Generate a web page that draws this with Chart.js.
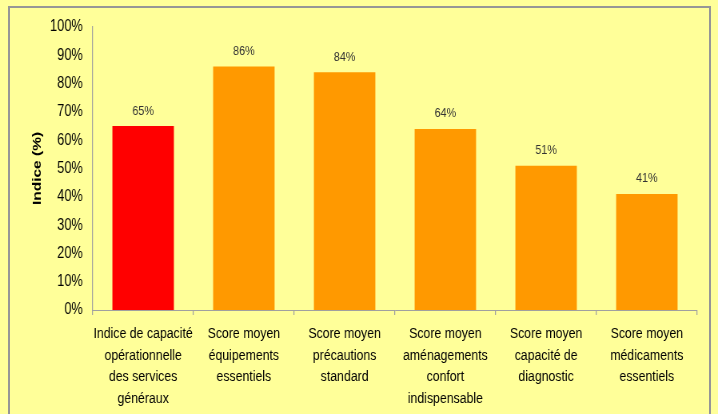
<!DOCTYPE html>
<html>
<head>
<meta charset="utf-8">
<script src="https://cdn.jsdelivr.net/npm/chart.js@4/dist/chart.umd.min.js"></script>
<style>
  html, body { margin: 0; padding: 0; background: #FFFF99; overflow: hidden; }
  #frame { position: absolute; left: 8px; top: 6px; width: 703px; height: 430px; border: 2px solid #969696; box-sizing: border-box; }
  #c { position: absolute; left: 0; top: 0; width: 718px; height: 414px; }
</style>
</head>
<body>
<div id="frame"></div>
<canvas id="c" width="898" height="414" style="width:718px;height:414px;"></canvas>
<script>
const categories = [
  ["Indice de capacité", "opérationnelle", "des services", "généraux"],
  ["Score moyen", "équipements", "essentiels"],
  ["Score moyen", "précautions", "standard"],
  ["Score moyen", "aménagements", "confort", "indispensable"],
  ["Score moyen", "capacité de", "diagnostic"],
  ["Score moyen", "médicaments", "essentiels"]
];
const values = [65, 86, 84, 64, 51, 41];
const barColors = ["#FF0000", "#FF9900", "#FF9900", "#FF9900", "#FF9900", "#FF9900"];
const yTitle = "Indice (%)";

const FONT = "'Liberation Sans', Arial, Helvetica, sans-serif";

const valueLabels = {
  id: "valueLabels",
  afterDatasetsDraw(chart) {
    const ctx = chart.ctx;
    const meta = chart.getDatasetMeta(0);
    ctx.save();
    ctx.font = "13.5px " + FONT;
    ctx.fillStyle = "#333333";
    ctx.textAlign = "center";
    ctx.textBaseline = "alphabetic";
    meta.data.forEach((bar, i) => {
      ctx.fillText(values[i] + "%", bar.x, bar.y - 11.5);
    });
    ctx.restore();
  }
};

new Chart(document.getElementById("c"), {
  type: "bar",
  data: {
    labels: categories,
    datasets: [{
      data: values,
      backgroundColor: barColors,
      borderWidth: 0,
      categoryPercentage: 1,
      barPercentage: 0.61
    }]
  },
  options: {
    responsive: false,
    animation: false,
    devicePixelRatio: 1,
    layout: { padding: { left: 0, top: 27, right: 26, bottom: 0 } },
    plugins: { legend: { display: false }, tooltip: { enabled: false } },
    scales: {
      x: {
        offset: true,
        grid: { display: true, drawOnChartArea: false, drawTicks: true, tickLength: 5, color: "#A0A0A0", lineWidth: 1.25, offset: true },
        border: { display: true, color: "#A0A0A0", width: 1 },
        ticks: { color: "#000000", padding: 8, maxRotation: 0, autoSkip: false, font: { family: FONT, size: 15.4, lineHeight: 1.4 } },
        afterFit(s) { s.height = 104; }
      },
      y: {
        min: 0, max: 100,
        grid: { display: false, drawTicks: false },
        border: { display: true, color: "#A0A0A0", width: 1.25 },
        ticks: { stepSize: 10, color: "#000000", padding: 12.5, font: { family: FONT, size: 16 }, callback: v => v + "%" },
        title: { display: true, text: yTitle, color: "#000000", font: { family: FONT, size: 15.5, weight: "bold", lineHeight: 1.2 }, padding: { top: 37, bottom: 0 } },
        afterFit(s) { s.width = 116; }
      }
    }
  },
  plugins: [valueLabels]
});
</script>
</body>
</html>
